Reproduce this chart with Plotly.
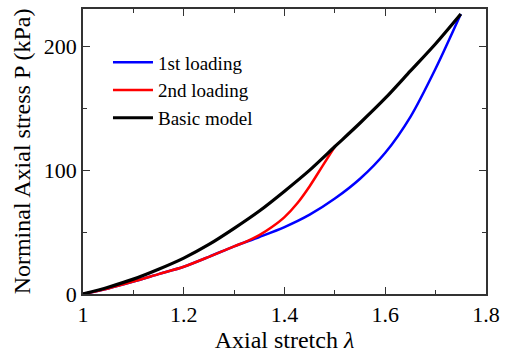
import plotly.graph_objects as go

# Data
lam_first = [1.0, 1.05, 1.1, 1.15, 1.2, 1.25, 1.3, 1.35, 1.4, 1.45, 1.5, 1.55, 1.6, 1.65, 1.7, 1.75]
p_first = [0, 4.5, 10, 16, 22, 30, 38.5, 46, 54, 64, 77, 93, 114, 143, 182, 226]

lam_second = [1.0, 1.05, 1.1, 1.15, 1.2, 1.25, 1.3, 1.325, 1.35, 1.375, 1.4, 1.425, 1.45, 1.475, 1.5]
p_second = [0, 4.5, 10, 16, 22, 30, 38.5, 42.5, 47.5, 54, 62, 73, 87, 103, 119]

lam_basic = [1.0, 1.05, 1.1, 1.15, 1.2, 1.25, 1.3, 1.35, 1.4, 1.45, 1.5, 1.55, 1.6, 1.65, 1.7, 1.75]
p_basic = [0, 5.5, 12, 20, 29, 40, 53, 67, 83, 100, 119, 138, 158, 180, 202, 226]

names = ["1st loading", "2nd loading", "Basic model"]
colors = ["#0000ff", "#ff0000", "#000000"]
widths = [2.5, 2.5, 3.2]

FONT = "Liberation Serif"

fig = go.Figure()
for lam, p, n, c, w in zip([lam_first, lam_second, lam_basic],
                           [p_first, p_second, p_basic], names, colors, widths):
    fig.add_trace(go.Scatter(x=lam, y=p, mode="lines", name=n,
                             line=dict(color=c, width=w, shape="spline", smoothing=0.8)))

axis_common = dict(
    showline=True, linecolor="#333", linewidth=1.5, mirror="allticks",
    ticks="inside", ticklen=7, tickwidth=1.2, tickcolor="#333",
    showgrid=False, zeroline=False,
    tickfont=dict(family=FONT, size=22, color="black"),
)

fig.update_xaxes(range=[1, 1.8], dtick=0.2, tick0=1,
                 minor=dict(dtick=0.1, ticks="inside", ticklen=4, tickcolor="#333", tickwidth=1.2),
                 title=dict(text="Axial stretch <i>λ</i>", font=dict(family=FONT, size=24, color="black"), standoff=2),
                 **axis_common)
fig.update_yaxes(range=[0, 230], dtick=100, tick0=0,
                 minor=dict(dtick=50, ticks="inside", ticklen=4, tickcolor="#333", tickwidth=1.2),
                 title=dict(text="Norminal Axial stress P (kPa)", font=dict(family=FONT, size=24, color="black"), standoff=6),
                 **axis_common)

fig.update_layout(
    width=511, height=353,
    margin=dict(l=83, r=25, t=7, b=59),
    plot_bgcolor="white", paper_bgcolor="white",
    font=dict(family=FONT, color="black"),
    legend=dict(x=0.062, y=0.714, xanchor="left", yanchor="middle",
                bgcolor="rgba(0,0,0,0)", borderwidth=0,
                font=dict(family=FONT, size=19, color="black"),
                itemwidth=40, tracegroupgap=0),
)

fig.write_html("out.html", config={"displayModeBar": False},
               post_script="document.body.style.margin='0';")
